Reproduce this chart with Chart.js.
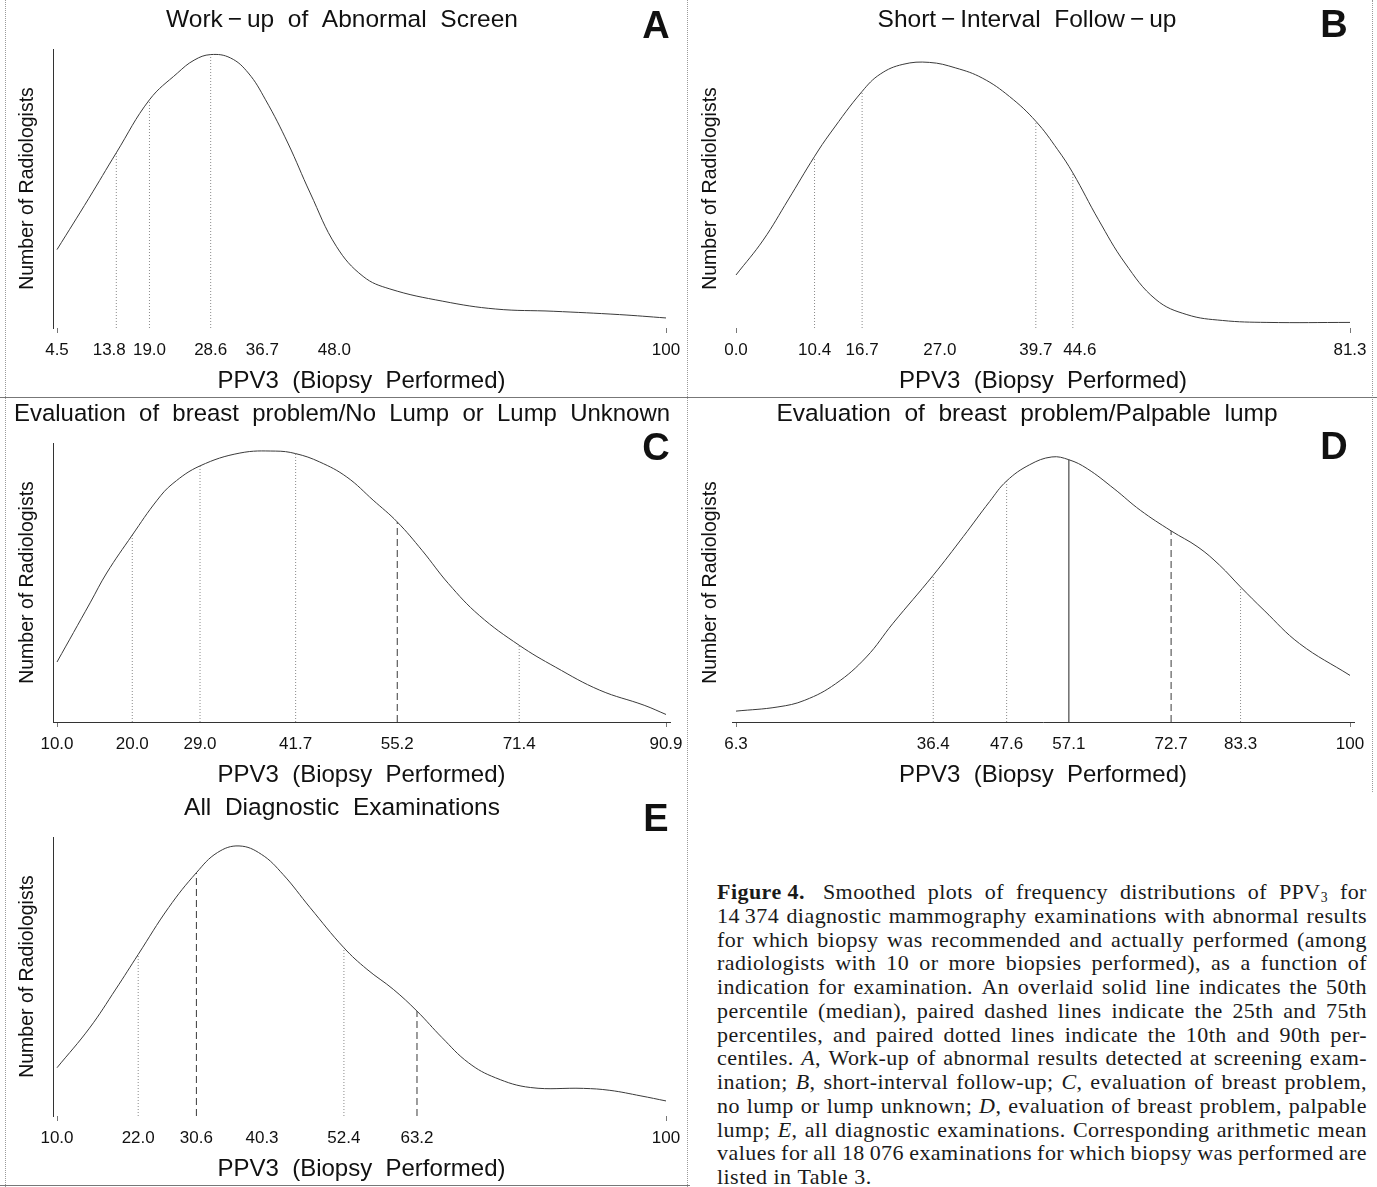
<!DOCTYPE html>
<html>
<head>
<meta charset="utf-8">
<script src="https://cdn.jsdelivr.net/npm/chart.js@4.4.1/dist/chart.umd.min.js"></script>
<style>
  html, body { margin: 0; padding: 0; background: #fff; }
  body { width: 1377px; height: 1187px; position: relative; overflow: hidden; }
  .panel { position: absolute; }
  .vline { position: absolute; width: 0; border-left: 1px dotted #9a9a9a; }
  .hline { position: absolute; height: 0; border-top: 1px solid #777; }
  #caption { position: absolute; left: 717px; top: 880px; width: 650px;
             font-family: "Liberation Serif", "Times New Roman", serif; font-size: 22px;
             letter-spacing: 0.45px; line-height: 23.75px; color: #1a1a1a; }
  #caption .cl { display: flex; justify-content: space-between; white-space: nowrap; }
  #caption .cl.last { justify-content: flex-start; gap: 6px; }
  #caption sub { font-size: 0.62em; vertical-align: -0.25em; line-height: 0; }
</style>
</head>
<body>
<div class="vline" style="left:5px; top:0; height:1187px"></div>
<div class="vline" style="left:687px; top:0; height:1187px"></div>
<div class="vline" style="left:1372px; top:0; height:792px"></div>
<div class="hline" style="left:0; top:397px; width:1377px"></div>
<div class="hline" style="left:0; top:1185px; width:690px"></div>
<div id="caption"></div>

<script>
Chart.defaults.font.family = '"Liberation Sans", Arial, Helvetica, sans-serif';
Chart.defaults.color = '#111';

// A: Work-up of Abnormal Screen
const aTickLabels = ['4.5', '13.8', '19.0', '28.6', '36.7', '48.0', '100'];
const aPpv = [4.5, 9.5, 13.8, 19.0, 23.4, 26.0, 28.6, 31.7, 34.5, 37.2, 40.7, 44.2, 48.3, 52.5, 56.7, 65.0, 73.3, 82.3, 92.7, 100];
const aDensity = [28.1, 46.5, 62.8, 81.8, 91.4, 96.0, 98.0, 96.8, 91.4, 81.8, 66.3, 48.4, 29.3, 18.5, 14.0, 9.6, 6.8, 6.0, 4.8, 3.6];
const aPctValues = [13.8, 19.0, 28.6];
const aPctStyles = ['dot', 'dot', 'dot'];

// B: Short-Interval Follow-up
const bTickLabels = ['0.0', '10.4', '16.7', '27.0', '39.7', '44.6', '81.3'];
const bPpv = [0, 3.6, 6.9, 10.4, 12.5, 16.7, 19.1, 22.1, 25.6, 29.1, 32.6, 36.2, 39.7, 42.6, 44.6, 48.0, 51.5, 55.6, 59.7, 64.4, 70.3, 81.3];
const bDensity = [19.0, 31.5, 45.9, 61.5, 69.9, 84.8, 91.0, 94.5, 95.2, 93.2, 89.6, 83.0, 74.1, 63.9, 55.6, 38.8, 23.3, 10.2, 4.8, 2.7, 2.0, 2.0];
const bPctValues = [10.4, 16.7, 39.7, 44.6];
const bPctStyles = ['dot', 'dot', 'dot', 'dot'];

// C: Evaluation of breast problem / No Lump or Lump Unknown
const cTickLabels = ['10.0', '20.0', '29.0', '41.7', '55.2', '71.4', '90.9'];
const cPpv = [10, 14.4, 16.6, 20.0, 23.3, 25.4, 29.0, 34.3, 39.0, 41.7, 44.9, 48.5, 52.0, 55.2, 58.5, 62.0, 66.1, 71.4, 76.2, 82.1, 88.0, 90.9];
const cDensity = [21.5, 42.7, 53.4, 67.0, 79.5, 85.5, 91.8, 96.4, 97.1, 96.2, 93.2, 87.8, 79.5, 71.7, 61.5, 49.6, 38.2, 27.5, 19.7, 11.4, 6.0, 2.7];
const cPctValues = [20.0, 29.0, 41.7, 55.2, 71.4];
const cPctStyles = ['dot', 'dot', 'dot', 'dash', 'dot'];

// D: Evaluation of breast problem / Palpable lump
const dTickLabels = ['6.3', '36.4', '47.6', '57.1', '72.7', '83.3', '100'];
const dPpv = [6.3, 12.7, 16.8, 21.5, 26.2, 30.2, 36.4, 41.0, 45.0, 47.6, 51.1, 54.5, 57.1, 59.9, 64.0, 68.0, 72.7, 76.8, 80.1, 83.3, 86.9, 92.3, 100];
const dDensity = [3.9, 5.4, 7.8, 13.7, 23.3, 35.2, 52.6, 66.5, 79.0, 86.4, 92.2, 95.0, 94.0, 90.8, 83.6, 75.9, 68.5, 62.7, 56.2, 48.4, 40.0, 28.1, 16.7];
const dPctValues = [36.4, 47.6, 57.1, 72.7, 83.3];
const dPctStyles = ['dot', 'dot', 'solid', 'dash', 'dot'];

// E: All Diagnostic Examinations
const eTickLabels = ['10.0', '22.0', '30.6', '40.3', '52.4', '63.2', '100'];
const ePpv = [10, 14.8, 18.7, 22.0, 26.5, 30.6, 33.7, 36.9, 40.2, 43.4, 47.4, 52.4, 55.8, 59.7, 63.2, 66.9, 70.8, 74.8, 80.0, 87.8, 91.7, 96.3, 100];
const eDensity = [17.3, 31.5, 45.5, 57.9, 74.7, 87.2, 94.4, 96.8, 93.8, 86.6, 74.7, 60.3, 52.6, 45.4, 37.6, 28.1, 19.1, 13.7, 10.2, 9.9, 9.2, 7.2, 5.4];
const ePctValues = [22.0, 30.6, 52.4, 63.2];
const ePctStyles = ['dot', 'dash', 'dot', 'dash'];

const captionLines = [
    '<b>Figure&nbsp;4.</b>&nbsp; Smoothed plots of frequency distributions of PPV<sub>3</sub> for',
    '14&#8201;374 diagnostic mammography examinations with abnormal results',
    'for which biopsy was recommended and actually performed (among',
    'radiologists with 10 or more biopsies performed), as a function of',
    'indication for examination. An overlaid solid line indicates the 50th',
    'percentile (median), paired dashed lines indicate the 25th and 75th',
    'percentiles, and paired dotted lines indicate the 10th and 90th per-',
    'centiles. <i>A</i>, Work-up of abnormal results detected at screening exam-',
    'ination; <i>B</i>, short-interval follow-up; <i>C</i>, evaluation of breast problem,',
    'no lump or lump unknown; <i>D</i>, evaluation of breast problem, palpable',
    'lump; <i>E</i>, all diagnostic examinations. Corresponding arithmetic mean',
    'values for all 18&#8201;076 examinations for which biopsy was performed are',
    'listed in Table 3.'
];

const lineStyles = {
    dot:   { dash: [1, 2], color: '#8a8a8a' },
    dash:  { dash: [7, 4], color: '#3a3a3a' },
    solid: { dash: [],     color: '#222' }
};

const panelLetter = {
    id: 'panelLetter',
    afterDraw(chart, args, opts) {
        const ctx = chart.ctx;
        ctx.save();
        ctx.font = 'bold 38px "Liberation Sans", Arial, sans-serif';
        ctx.fillStyle = '#111';
        ctx.textAlign = 'center';
        ctx.textBaseline = 'middle';
        ctx.fillText(opts.text, opts.x, opts.y);
        ctx.restore();
    }
};

function makePanel(p) {
    const W = p.width, H = 394;
    const holder = document.createElement('div');
    holder.className = 'panel';
    holder.style.left = p.left + 'px';
    holder.style.top = p.top + 'px';
    const canvas = document.createElement('canvas');
    canvas.width = W;
    canvas.height = H;
    holder.appendChild(canvas);
    document.body.appendChild(holder);

    const tickVals = p.labels.map(Number);
    const first = tickVals[0], last = tickVals[tickVals.length - 1];
    const perPx = (last - first) / (p.dataRight - p.dataLeft);
    const xMin = first - (p.dataLeft - p.areaLeft) * perPx;
    const xMax = last + (p.areaRight - p.dataRight) * perPx;
    const yTitleSize = 19.5;

    const datasets = [{
        data: p.xs.map((x, i) => ({ x: x, y: p.ys[i] })),
        borderColor: '#3a3a3a',
        borderWidth: 1,
        pointRadius: 0,
        tension: 0.4
    }];
    p.pct.forEach((v, i) => {
        const st = lineStyles[p.pctStyles[i]];
        datasets.push({
            data: [{ x: v, y: 0 }, { x: v, y: p.ys[p.xs.indexOf(v)] }],
            borderColor: st.color,
            borderWidth: 1,
            borderDash: st.dash,
            pointRadius: 0
        });
    });

    new Chart(canvas, {
        type: 'line',
        data: { datasets: datasets },
        plugins: [panelLetter],
        options: {
            responsive: false,
            animation: false,
            events: [],
            layout: { padding: { left: p.padL, right: W - p.areaRight, top: 0, bottom: 0 } },
            plugins: {
                legend: { display: false },
                tooltip: { enabled: false },
                title: {
                    display: true,
                    text: p.title,
                    color: '#111',
                    font: { size: 24.5, weight: 'normal' },
                    padding: { top: 5.4, bottom: 14.2 }
                },
                panelLetter: { text: p.letter, x: p.letterX, y: p.letterY }
            },
            scales: {
                x: {
                    type: 'linear',
                    min: xMin,
                    max: xMax,
                    afterBuildTicks: s => { s.ticks = tickVals.map(v => ({ value: v })); },
                    afterFit: s => { s.height = 66; },
                    ticks: {
                        autoSkip: false,
                        maxRotation: 0,
                        minRotation: 0,
                        padding: 7,
                        color: '#111',
                        font: { size: 17 },
                        callback: (v, i) => {
                            const lab = p.labels[i];
                            const n = Math.round(Math.abs(p.nudge[lab] || 0) / 2.35);
                            if (!n) return lab;
                            return p.nudge[lab] < 0 ? lab + ' '.repeat(n) : ' '.repeat(n) + lab;
                        }
                    },
                    grid: {
                        display: true,
                        drawOnChartArea: false,
                        drawTicks: true,
                        tickLength: 5,
                        color: c => (c.index === 0 || c.index === tickVals.length - 1) ? '#777' : 'rgba(0,0,0,0)'
                    },
                    border: { display: p.xBorder, color: '#333', width: 1 },
                    title: {
                        display: true,
                        text: 'PPV3  (Biopsy  Performed)',
                        color: '#111',
                        font: { size: 24 },
                        padding: { top: 0, bottom: -2 }
                    }
                },
                y: {
                    type: 'linear',
                    min: 0,
                    max: 100,
                    afterFit: s => { s.width = p.areaLeft - p.padL; },
                    ticks: { display: false },
                    grid: { display: false },
                    border: { display: p.yBorder, color: '#333', width: 1 },
                    title: {
                        display: true,
                        text: 'Number of Radiologists',
                        color: '#111',
                        font: { size: yTitleSize },
                        padding: { top: p.yTitleX - p.padL - yTitleSize * 0.6, bottom: 0 }
                    }
                }
            }
        }
    });
}

const leftGeom = { left: 0, width: 690, padL: 14, areaLeft: 53, dataLeft: 57, dataRight: 666, areaRight: 670, letterX: 656, yTitleX: 28 };
const rightGeom = { left: 690, width: 687, padL: 10, areaLeft: 42, dataLeft: 46, dataRight: 660, areaRight: 664, letterX: 644, yTitleX: 21 };

makePanel(Object.assign({}, leftGeom, {
    top: 0, title: 'Work\u2009\u2212\u2009up  of  Abnormal  Screen', letter: 'A', letterY: 28,
    labels: aTickLabels, xs: aPpv, ys: aDensity, pct: aPctValues, pctStyles: aPctStyles,
    xBorder: false, yBorder: true, nudge: { '13.8': -8 }
}));
makePanel(Object.assign({}, rightGeom, {
    top: 0, title: 'Short\u2009\u2212\u2009Interval  Follow\u2009\u2212\u2009up', letter: 'B', letterY: 27,
    labels: bTickLabels, xs: bPpv, ys: bDensity, pct: bPctValues, pctStyles: bPctStyles,
    xBorder: false, yBorder: false, nudge: { '44.6': 8 }
}));
makePanel(Object.assign({}, leftGeom, {
    top: 394, title: 'Evaluation  of  breast  problem/No  Lump  or  Lump  Unknown', letter: 'C', letterY: 56,
    labels: cTickLabels, xs: cPpv, ys: cDensity, pct: cPctValues, pctStyles: cPctStyles,
    xBorder: true, yBorder: true, nudge: {}
}));
makePanel(Object.assign({}, rightGeom, {
    top: 394, title: 'Evaluation  of  breast  problem/Palpable  lump', letter: 'D', letterY: 55,
    labels: dTickLabels, xs: dPpv, ys: dDensity, pct: dPctValues, pctStyles: dPctStyles,
    xBorder: true, yBorder: false, nudge: {}
}));
makePanel(Object.assign({}, leftGeom, {
    top: 788, title: 'All  Diagnostic  Examinations', letter: 'E', letterY: 33,
    labels: eTickLabels, xs: ePpv, ys: eDensity, pct: ePctValues, pctStyles: ePctStyles,
    xBorder: false, yBorder: true, nudge: {}
}));

// caption, one justified row per printed line
const cap = document.getElementById('caption');
captionLines.forEach((line, i) => {
    const row = document.createElement('div');
    row.className = 'cl' + (i === captionLines.length - 1 ? ' last' : '');
    line.split(' ').filter(w => w.length).forEach(w => {
        const span = document.createElement('span');
        span.innerHTML = w;
        row.appendChild(span);
    });
    cap.appendChild(row);
});
</script>
</body>
</html>
